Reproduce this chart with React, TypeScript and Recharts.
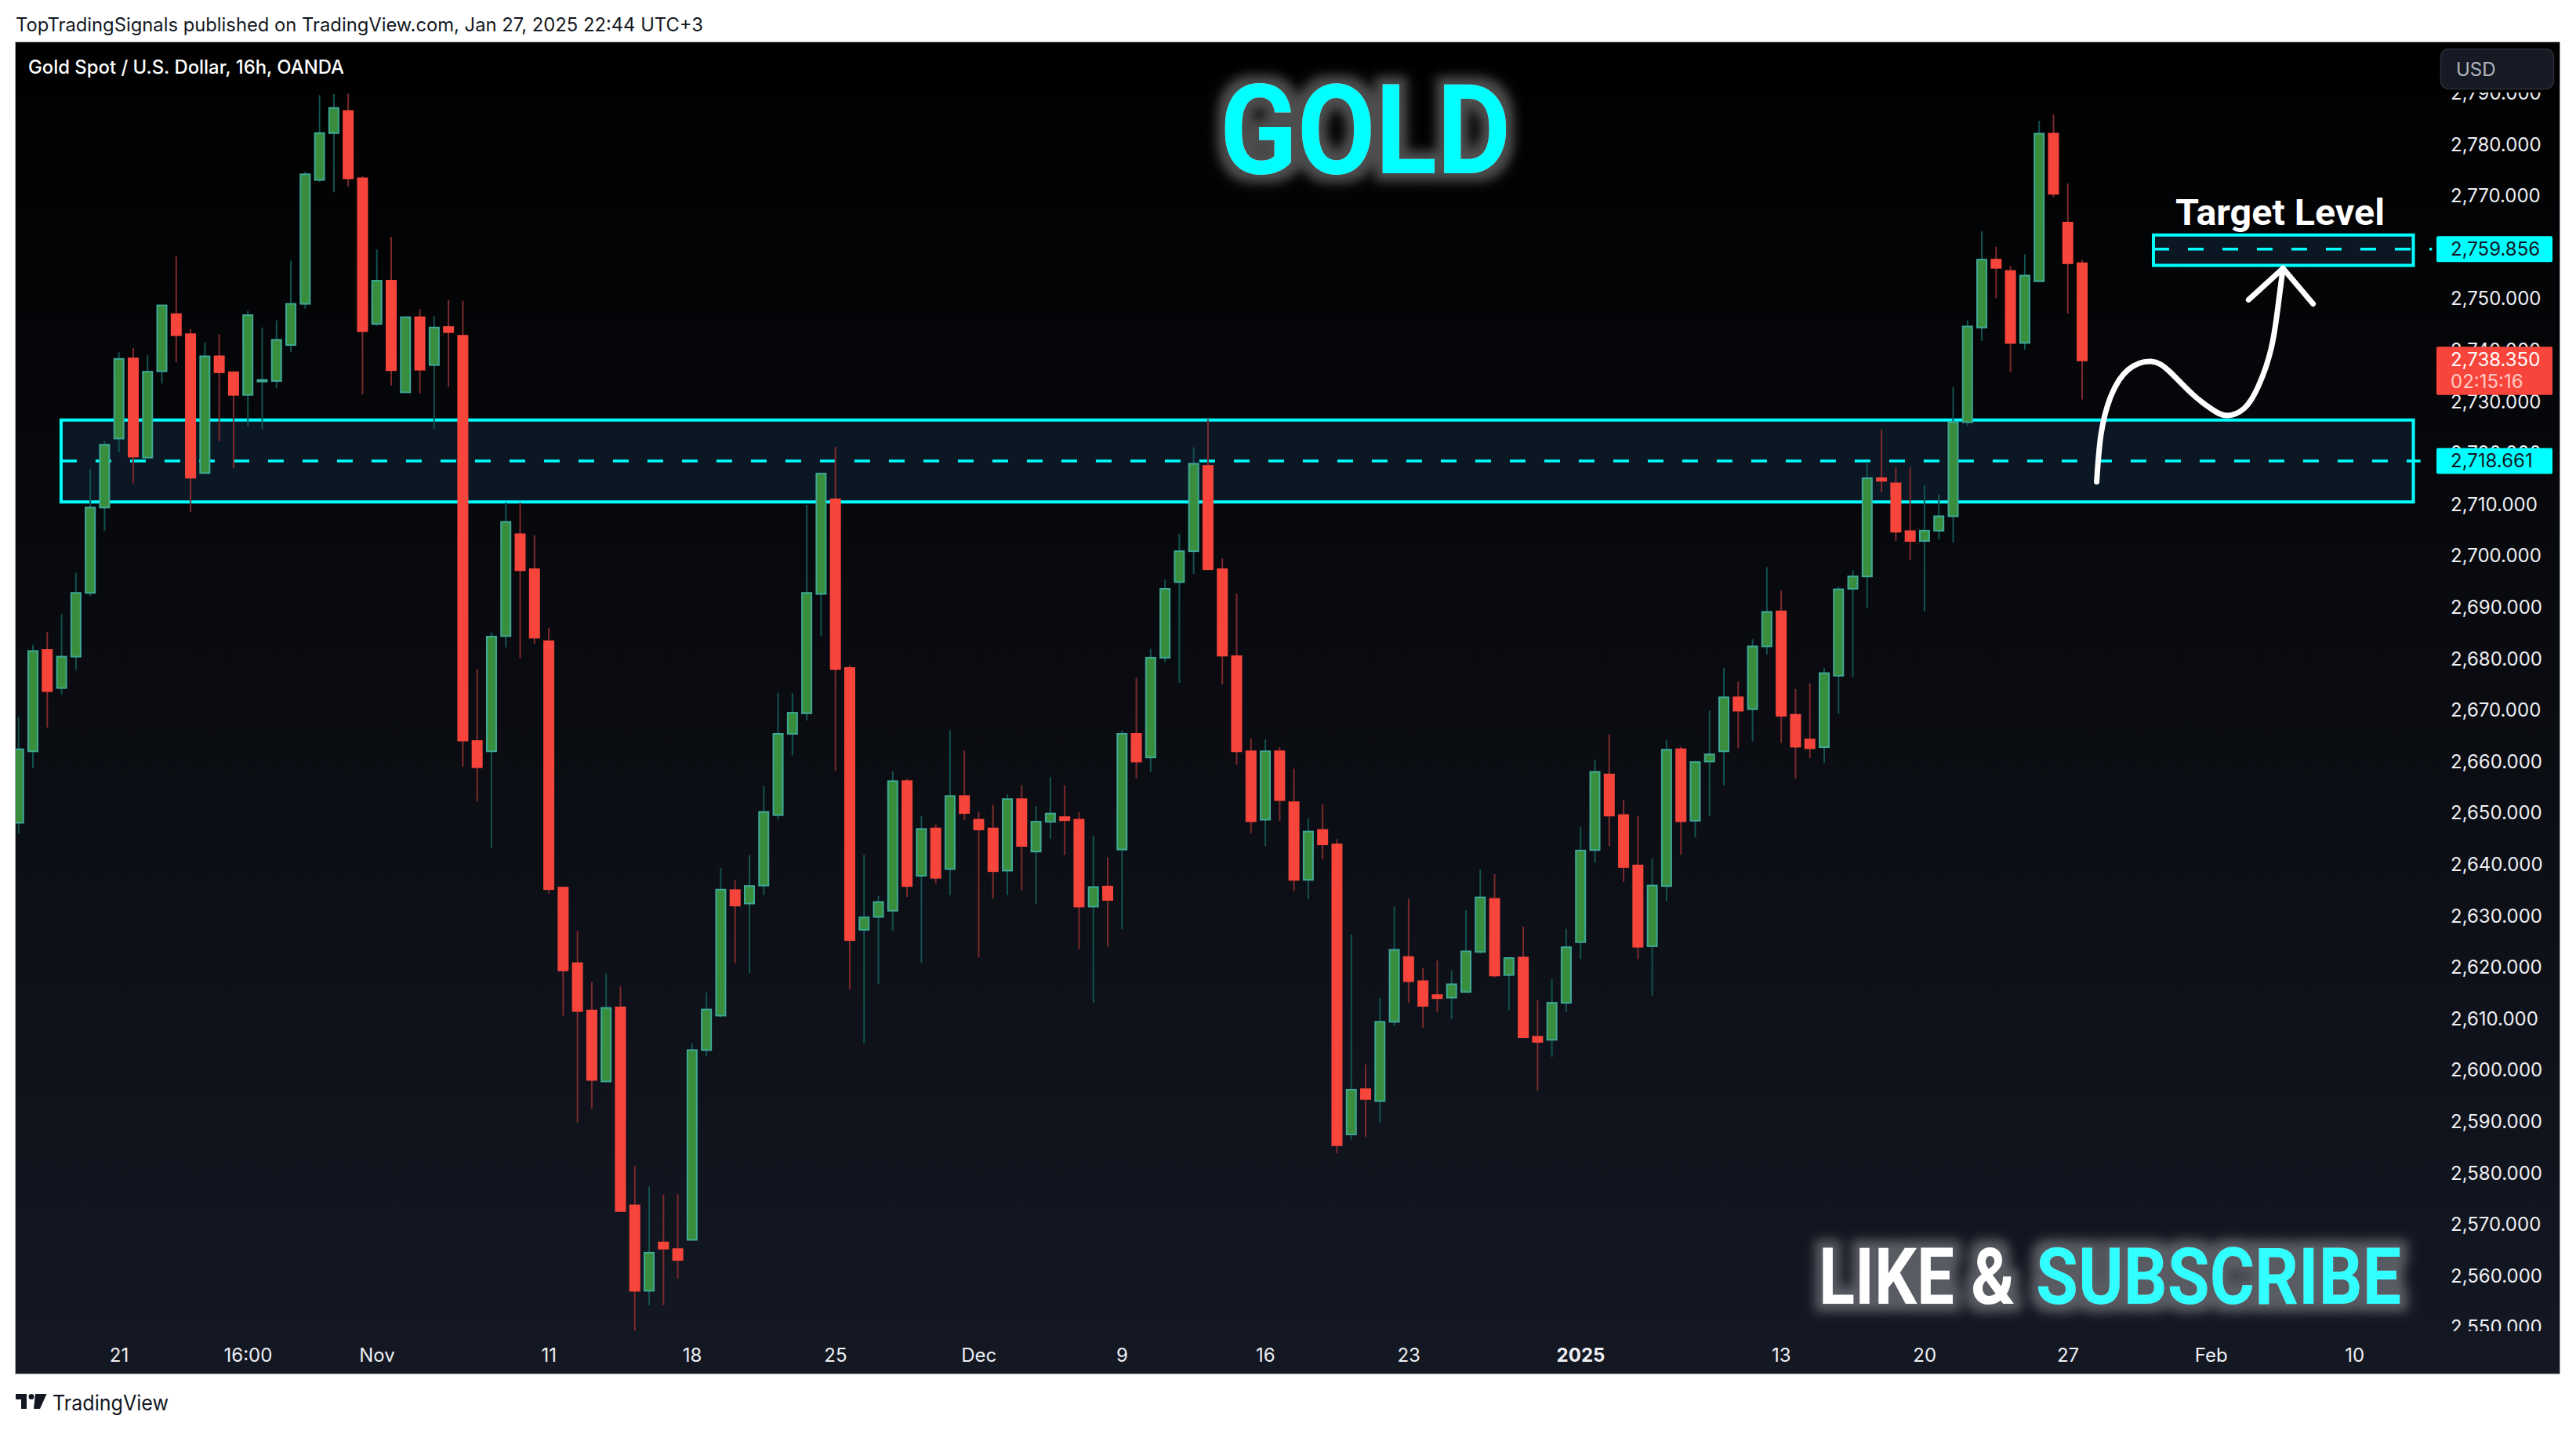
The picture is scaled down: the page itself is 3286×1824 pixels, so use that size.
import { Bar, ComposedChart, Line, ReferenceArea, ReferenceLine, XAxis, YAxis } from "recharts"

const opens = [
  2648.3, 2662.2, 2681.9, 2674.5, 2680.6, 2693.0, 2709.6, 2723.0, 2738.6, 2719.3,
  2736.1, 2747.2, 2743.3, 2716.3, 2739.0, 2735.9, 2731.5, 2734.3, 2734.2, 2741.2,
  2749.2, 2773.3, 2782.4, 2786.7, 2773.6, 2745.3, 2753.7, 2732.0, 2746.6, 2737.3,
  2744.7, 2743.0, 2664.2, 2662.2, 2684.6, 2704.4, 2697.6, 2683.6, 2635.7, 2621.0,
  2611.8, 2598.0, 2612.4, 2573.9, 2557.3, 2566.7, 2565.4, 2567.2, 2604.1, 2610.8,
  2635.2, 2632.6, 2636.1, 2649.8, 2665.6, 2669.6, 2692.8, 2711.2, 2678.4, 2627.5,
  2630.0, 2631.2, 2656.4, 2638.0, 2647.2, 2639.3, 2653.5, 2648.9, 2647.2, 2639.0,
  2652.9, 2642.7, 2648.5, 2649.4, 2648.9, 2632.0, 2635.9, 2643.1, 2665.6, 2661.0,
  2680.4, 2695.1, 2701.1, 2717.7, 2697.6, 2680.7, 2662.2, 2648.9, 2662.2, 2652.3,
  2637.2, 2646.9, 2644.1, 2587.7, 2596.5, 2594.2, 2609.6, 2622.2, 2617.5, 2614.8,
  2614.3, 2615.4, 2623.2, 2633.5, 2618.7, 2622.1, 2606.7, 2606.1, 2613.3, 2625.1,
  2643.0, 2657.7, 2649.8, 2640.0, 2624.3, 2636.0, 2662.6, 2648.7, 2660.2, 2662.2,
  2672.7, 2670.4, 2682.6, 2689.4, 2669.3, 2664.5, 2663.0, 2676.9, 2693.8, 2696.2,
  2715.3, 2714.3, 2705.0, 2703.1, 2705.1, 2707.9, 2726.2, 2744.6, 2757.8, 2755.6,
  2741.6, 2753.6, 2782.3, 2765.0, 2757.1,
]

const highs = [
  2668.9, 2682.9, 2685.4, 2688.9, 2696.9, 2717.1, 2722.5, 2739.8, 2740.6, 2739.3,
  2748.9, 2758.4, 2744.3, 2741.7, 2743.3, 2736.0, 2747.8, 2744.6, 2746.0, 2757.6,
  2774.9, 2789.8, 2790.0, 2790.1, 2774.1, 2759.8, 2762.2, 2746.7, 2748.2, 2746.8,
  2750.0, 2749.8, 2678.2, 2685.3, 2710.6, 2710.6, 2704.2, 2686.2, 2635.9, 2627.3,
  2617.3, 2619.0, 2616.5, 2581.6, 2577.6, 2576.0, 2576.1, 2605.4, 2615.3, 2639.5,
  2637.1, 2642.0, 2655.5, 2673.6, 2673.5, 2710.1, 2716.3, 2721.4, 2678.9, 2642.1,
  2634.1, 2658.3, 2656.9, 2649.6, 2648.0, 2666.3, 2662.3, 2650.4, 2651.8, 2653.8,
  2655.6, 2651.5, 2657.2, 2655.6, 2650.4, 2645.8, 2641.6, 2666.3, 2676.5, 2682.1,
  2695.6, 2704.5, 2721.3, 2726.7, 2699.7, 2692.9, 2664.7, 2664.5, 2663.0, 2658.8,
  2649.1, 2651.9, 2645.1, 2626.6, 2601.3, 2614.2, 2632.0, 2633.5, 2620.1, 2621.5,
  2619.6, 2631.3, 2639.2, 2638.3, 2622.2, 2628.1, 2613.9, 2617.9, 2627.7, 2647.5,
  2660.6, 2665.5, 2652.8, 2649.6, 2641.3, 2664.4, 2663.1, 2660.4, 2670.1, 2678.4,
  2675.8, 2684.0, 2698.0, 2693.5, 2674.3, 2675.4, 2678.4, 2694.2, 2697.4, 2718.5,
  2724.8, 2717.4, 2717.4, 2713.9, 2712.1, 2733.0, 2746.0, 2763.3, 2760.3, 2756.6,
  2758.8, 2784.8, 2786.0, 2772.6, 2757.8,
]

const lows = [
  2646.1, 2658.9, 2666.8, 2673.3, 2678.0, 2692.4, 2705.0, 2720.3, 2714.3, 2719.3,
  2733.7, 2737.9, 2708.7, 2716.3, 2722.5, 2717.2, 2725.4, 2724.9, 2732.8, 2739.8,
  2748.3, 2772.9, 2770.9, 2772.0, 2731.6, 2744.9, 2733.3, 2732.0, 2731.8, 2724.9,
  2733.0, 2659.2, 2652.5, 2643.4, 2682.4, 2680.3, 2683.1, 2634.6, 2610.8, 2590.0,
  2592.7, 2598.0, 2572.8, 2549.5, 2554.5, 2554.5, 2559.7, 2567.2, 2602.9, 2610.5,
  2621.0, 2619.1, 2634.2, 2648.9, 2661.4, 2668.2, 2684.6, 2658.4, 2615.9, 2605.5,
  2616.9, 2627.3, 2633.9, 2621.1, 2636.5, 2634.2, 2648.8, 2622.1, 2633.6, 2634.2,
  2635.2, 2632.5, 2645.2, 2642.0, 2623.7, 2613.3, 2624.2, 2627.6, 2656.9, 2658.2,
  2679.6, 2675.5, 2696.7, 2697.6, 2675.2, 2659.6, 2646.3, 2643.8, 2648.7, 2635.0,
  2633.4, 2641.2, 2584.1, 2586.7, 2587.2, 2589.9, 2608.8, 2613.3, 2608.4, 2611.5,
  2610.1, 2615.4, 2622.8, 2618.2, 2611.8, 2606.6, 2596.2, 2602.8, 2611.5, 2621.8,
  2640.5, 2643.8, 2636.8, 2621.8, 2614.7, 2633.1, 2642.1, 2645.4, 2649.6, 2655.6,
  2662.8, 2664.1, 2681.0, 2663.8, 2656.9, 2660.9, 2659.9, 2669.5, 2676.7, 2690.0,
  2712.5, 2703.1, 2699.4, 2689.4, 2703.4, 2702.8, 2725.5, 2742.0, 2750.3, 2735.9,
  2740.3, 2753.6, 2769.9, 2747.3, 2730.6,
]

const closes = [
  2662.6, 2681.7, 2673.9, 2680.6, 2693.0, 2709.6, 2721.8, 2738.5, 2719.5, 2736.0,
  2748.9, 2743.1, 2715.4, 2739.0, 2735.9, 2731.5, 2747.0, 2734.4, 2742.2, 2749.2,
  2774.4, 2782.4, 2787.3, 2773.6, 2743.9, 2753.7, 2736.3, 2746.6, 2736.4, 2744.6,
  2743.7, 2664.3, 2659.1, 2684.5, 2706.8, 2697.4, 2684.3, 2635.4, 2619.6, 2611.7,
  2598.3, 2612.3, 2572.8, 2557.3, 2564.7, 2565.5, 2563.3, 2604.1, 2612.0, 2635.3,
  2632.2, 2636.0, 2650.4, 2665.6, 2669.7, 2693.0, 2716.2, 2678.2, 2625.5, 2629.9,
  2632.9, 2656.4, 2636.0, 2647.1, 2637.6, 2653.5, 2650.2, 2647.0, 2638.9, 2652.9,
  2643.8, 2648.5, 2650.1, 2648.8, 2632.0, 2635.8, 2633.3, 2665.6, 2660.2, 2680.4,
  2693.8, 2701.1, 2718.1, 2697.6, 2680.8, 2662.2, 2648.6, 2662.2, 2652.7, 2637.2,
  2646.6, 2644.1, 2585.6, 2596.4, 2594.6, 2609.6, 2623.6, 2617.5, 2612.7, 2614.2,
  2616.9, 2623.3, 2633.8, 2618.6, 2622.0, 2606.6, 2605.7, 2613.3, 2624.1, 2642.9,
  2658.2, 2649.7, 2639.7, 2624.2, 2636.1, 2662.5, 2648.6, 2660.1, 2661.6, 2672.7,
  2670.1, 2682.6, 2689.3, 2669.1, 2663.1, 2662.8, 2677.4, 2693.7, 2696.2, 2715.3,
  2714.8, 2704.9, 2703.1, 2705.1, 2707.9, 2726.2, 2744.8, 2757.8, 2756.2, 2741.6,
  2754.7, 2782.3, 2770.6, 2757.1, 2738.2,
]

const timeTicks = [7, 16, 25, 37, 47, 57, 67, 77, 87, 97, 109, 123, 133, 143, 153, 163]
const timeLabels = ["21", "16:00", "Nov", "11", "18", "25", "Dec", "9", "16", "23", "2025", "13", "20", "27", "Feb", "10"]
const priceTicks = [
  2550, 2560, 2570, 2580, 2590, 2600, 2610, 2620, 2630, 2640, 2650, 2660, 2670, 2680, 2690,
  2700, 2710, 2720, 2730, 2740, 2750, 2760, 2770, 2780, 2790,
]

const entryLevel = 2718.661
const targetLevel = 2759.856
const lastPrice = 2738.35
const countdown = "02:15:16"

// hand drawn arrow from the picture, index on the time axis and price
const arrowIdx = [145.0, 145.3, 146.0, 147.2, 148.8, 150.1, 151.7, 153.1, 154.1, 155.3, 156.3, 157.2, 157.7, 158.0]
const arrowPrice = [2714.6, 2723.8, 2731.3, 2736.4, 2738.0, 2736.0, 2731.6, 2728.6, 2727.5, 2728.9, 2733.3, 2740.8, 2749.7, 2756.1]
const headIdx = [155.6, 158.0, 160.1]
const headPrice = [2750.0, 2756.1, 2749.2]

const candles = opens.map((open, i) => ({ i, open, high: highs[i], low: lows[i], close: closes[i] }))
const arrow = arrowIdx.map((i, n) => ({ i, arrow: arrowPrice[n] }))
const arrowHead = headIdx.map((i, n) => ({ i, head: headPrice[n] }))

const CYAN = "#00ffff"
const FONT = "Inter, Roboto, sans-serif"
const BODY = 14

// page y of a price on the right scale, only for the tags drawn above the axis
const tagY = (p: number) => 185.5 + (2780 - p) * 6.56
const fmt = (p: number) => p.toLocaleString("en-US", { minimumFractionDigits: 3, maximumFractionDigits: 3 })

function Candle(props: any) {
  const { x, y, width, height, payload } = props
  const { open, high, low, close } = payload
  const perUnit = height / (high - low)
  const up = close >= open
  const top = y + (high - Math.max(open, close)) * perUnit
  const bodyH = Math.max(Math.abs(close - open) * perUnit, 2)
  const mid = x + width / 2
  return (
    <g>
      <line x1={mid} x2={mid} y1={y} y2={y + height} stroke={up ? "#125250" : "#7c2a2c"} strokeWidth={2} />
      {up ? (
        <rect x={mid - BODY / 2 + 1} y={top} width={BODY - 2} height={bodyH} fill="#388e3c" stroke="#3fa896" strokeWidth={2} />
      ) : (
        <rect x={mid - BODY / 2} y={top - 1} width={BODY} height={bodyH + 2} fill="#f8453c" />
      )}
    </g>
  )
}

function PriceTick({ y, payload }: any) {
  return (
    <text
      x={3106}
      y={y - 1.5}
      fill="#eef0f5"
      fontFamily={FONT}
      fontSize={24}
      dominantBaseline="central"
      clipPath="url(#priceClip)"
    >
      {fmt(payload.value)}
    </text>
  )
}

function TimeTick({ x, payload }: any) {
  const label = timeLabels[timeTicks.indexOf(payload.value)]
  return (
    <text
      x={x}
      y={1674}
      fill="#eef0f5"
      fontFamily={FONT}
      fontSize={24}
      fontWeight={label === "2025" ? 700 : 400}
      textAnchor="middle"
      dominantBaseline="central"
    >
      {label}
    </text>
  )
}

function PriceTag({ price, fill, color, sub }: any) {
  const cy = tagY(price)
  return (
    <g fontFamily={FONT} fontSize={24}>
      <rect x={3108} y={cy - 16.5} width={148} height={sub ? 61.5 : 33} rx={2} fill={fill} />
      <text x={3126} y={cy} fill={color} dominantBaseline="central">
        {fmt(price)}
      </text>
      {sub && (
        <text x={3126} y={cy + 28} fill="#ffc9c5" dominantBaseline="central">
          {sub}
        </text>
      )}
    </g>
  )
}

function GoldChart() {
  return (
    <ComposedChart width={3245} height={1698} data={candles} margin={{ top: 0, right: 0, bottom: 0, left: 0 }}>
      <XAxis
        dataKey="i"
        type="number"
        domain={[-0.2188, 168]}
        allowDataOverflow
        ticks={timeTicks}
        interval={0}
        tick={TimeTick}
        tickLine={false}
        axisLine={false}
        height={54}
      />
      <YAxis
        orientation="right"
        type="number"
        domain={[2549.44, 2800.05]}
        allowDataOverflow
        ticks={priceTicks}
        interval={0}
        tick={PriceTick}
        tickLine={false}
        axisLine={false}
        width={170}
      />
      <ReferenceArea
        x1={2.95}
        x2={167.1}
        y1={2710.7}
        y2={2726.6}
        fill="#0c1724"
        fillOpacity={1}
        stroke={CYAN}
        strokeWidth={4}
        ifOverflow="visible"
      />
      <ReferenceArea
        x1={148.96}
        x2={167.1}
        y1={2756.7}
        y2={2762.6}
        fill="#0c1724"
        fillOpacity={1}
        stroke={CYAN}
        strokeWidth={4}
        ifOverflow="visible"
      />
      <ReferenceLine
        segment={[{ x: 2.95, y: entryLevel }, { x: 167.6, y: entryLevel }]}
        stroke={CYAN}
        strokeWidth={3.5}
        strokeDasharray="20 24"
        ifOverflow="visible"
        zIndex={200}
      />
      <ReferenceLine
        segment={[{ x: 148.96, y: targetLevel }, { x: 168.4, y: targetLevel }]}
        stroke={CYAN}
        strokeWidth={3.5}
        strokeDasharray="20 24"
        ifOverflow="visible"
        zIndex={200}
      />
      <Bar dataKey={(d: any) => [d.low, d.high]} barSize={14} shape={Candle} isAnimationActive={false} />
      <Line
        data={arrow}
        dataKey="arrow"
        type="natural"
        stroke="#ffffff"
        strokeWidth={7}
        strokeLinecap="round"
        dot={false}
        isAnimationActive={false}
      />
      <Line
        data={arrowHead}
        dataKey="head"
        type="linear"
        stroke="#ffffff"
        strokeWidth={7}
        strokeLinecap="round"
        strokeLinejoin="round"
        dot={false}
        isAnimationActive={false}
      />
    </ComposedChart>
  )
}

function Overlay() {
  return (
    <svg width={3286} height={1824} style={{ position: "absolute", left: 0, top: 0, pointerEvents: "none" }}>
      <defs>
        <clipPath id="priceClip">
          <rect x={3090} y={64} width={160} height={1580} />
        </clipPath>
        <filter id="glow" x="-20%" y="-50%" width="140%" height="200%">
          <feMorphology in="SourceAlpha" operator="dilate" radius={10} result="fat" />
          <feGaussianBlur in="fat" stdDeviation={7} result="soft" />
          <feFlood floodColor="#ffffff" floodOpacity={0.3} />
          <feComposite in2="soft" operator="in" result="haze" />
          <feMerge>
            <feMergeNode in="haze" />
            <feMergeNode in="SourceGraphic" />
          </feMerge>
        </filter>
      </defs>
      <text x={20} y={40} fill="#131722" fontFamily={FONT} fontSize={24} textLength={877} lengthAdjust="spacingAndGlyphs">
        TopTradingSignals published on TradingView.com, Jan 27, 2025 22:44 UTC+3
      </text>
      <text x={36} y={94} fill="#ffffff" fontFamily={FONT} fontSize={24} fontWeight={500} textLength={403} lengthAdjust="spacingAndGlyphs">
        Gold Spot / U.S. Dollar, 16h, OANDA
      </text>
      <rect x={3113.5} y={62.5} width={144} height={51} rx={10} fill="#161a25" stroke="#2a2e39" strokeWidth={1.5} />
      <text x={3133} y={97} fill="#b2b5be" fontFamily={FONT} fontSize={24}>
        USD
      </text>
      <PriceTag price={lastPrice} fill="#f8453c" color="#ffffff" sub={countdown} />
      <PriceTag price={targetLevel} fill={CYAN} color="#131722" />
      <PriceTag price={entryLevel} fill={CYAN} color="#131722" />
      <g filter="url(#glow)">
        <text x={1556} y={221} fill={CYAN} fontFamily="Roboto, sans-serif" fontWeight={700} fontSize={159} textLength={371} lengthAdjust="spacingAndGlyphs">
          GOLD
        </text>
      </g>
      <g filter="url(#glow)">
        <text x={2320} y={1663} fill="#ffffff" fontFamily="Roboto, sans-serif" fontWeight={700} fontSize={100} textLength={250} lengthAdjust="spacingAndGlyphs">
          LIKE &amp;
        </text>
        <text x={2597} y={1663} fill="#33ffff" fontFamily="Roboto, sans-serif" fontWeight={700} fontSize={100} textLength={466} lengthAdjust="spacingAndGlyphs">
          SUBSCRIBE
        </text>
      </g>
      <text x={2775} y={287} fill="#ffffff" fontFamily="Roboto, sans-serif" fontWeight={700} fontSize={46} textLength={267} lengthAdjust="spacingAndGlyphs">
        Target Level
      </text>
      <g fill="#131722">
        <path d="M20 1778h14v19h-7v-12h-7z" />
        <circle cx={40} cy={1781.5} r={3.5} />
        <path d="M45 1778h14.5l-8.5 19h-8z" />
      </g>
      <text x={67} y={1799} fill="#131722" fontFamily={FONT} fontSize={27} textLength={148} lengthAdjust="spacingAndGlyphs">
        TradingView
      </text>
    </svg>
  )
}

export default function App() {
  return (
    <div style={{ position: "absolute", left: 0, top: 0, width: 3286, height: 1824, background: "#ffffff", overflow: "hidden" }}>
      <div
        style={{
          position: "absolute",
          left: 19,
          top: 53,
          width: 3245,
          height: 1698,
          border: "1px solid #a8aab4",
          background: "linear-gradient(#000000, #141823)",
        }}
      >
        <GoldChart />
      </div>
      <Overlay />
    </div>
  )
}
